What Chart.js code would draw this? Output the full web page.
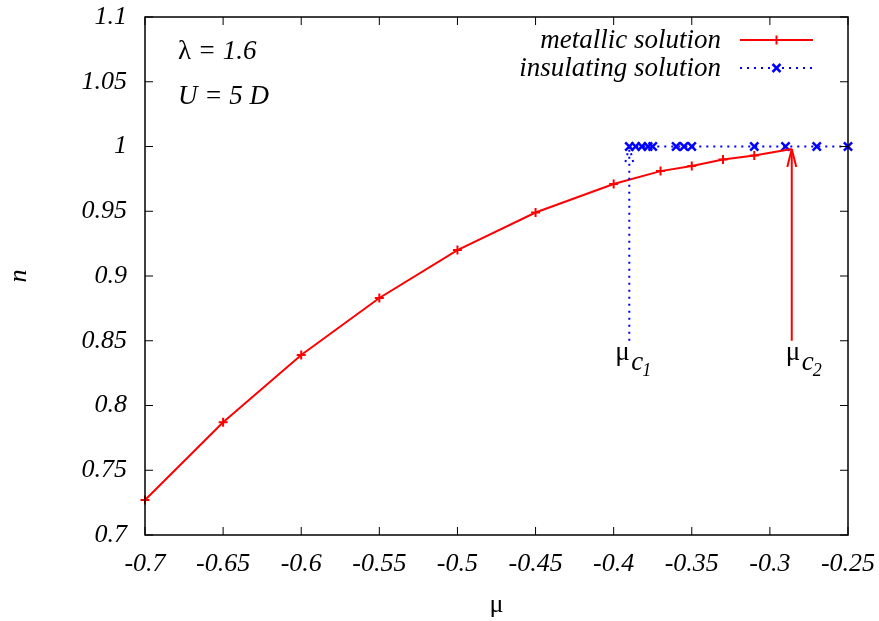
<!DOCTYPE html>
<html>
<head>
<meta charset="utf-8">
<script src="https://cdn.jsdelivr.net/npm/chart.js@4.4.0/dist/chart.umd.min.js"></script>
<style>
html,body{margin:0;padding:0;background:#fff}
#wrap{width:879px;height:621px}
</style>
</head>
<body>
<div id="wrap"><canvas id="grafico"></canvas></div>
<script>
// metallic solution
var muMetal = [-0.7, -0.65, -0.6, -0.55, -0.5, -0.45, -0.4, -0.37, -0.35, -0.33, -0.31, -0.286];
var nMetal  = [0.727, 0.787, 0.839, 0.883, 0.920, 0.949, 0.971, 0.981, 0.985, 0.990, 0.993, 0.998];
// insulating solution
var muIns = [-0.39, -0.386, -0.382, -0.378, -0.375, -0.36, -0.355, -0.35, -0.31, -0.29, -0.27, -0.25];
var nIns  = [1, 1, 1, 1, 1, 1, 1, 1, 1, 1, 1, 1];
// axis ticks
var xTicks = [-0.7, -0.65, -0.6, -0.55, -0.5, -0.45, -0.4, -0.35, -0.3, -0.25];
var yTicks = [0.7, 0.75, 0.8, 0.85, 0.9, 0.95, 1, 1.05, 1.1];
// critical points (arrows)
var muC1 = -0.39, muC2 = -0.286, nArrowBase = 0.85;

var SERIF = '"Liberation Serif", "Times New Roman", serif';
var FS = 26;

function pts(xs, ys) {
  var out = [];
  for (var i = 0; i < xs.length; i++) out.push({x: xs[i], y: ys[i]});
  return out;
}

function seg(ctx, x1, y1, x2, y2) {
  ctx.beginPath(); ctx.moveTo(x1, y1); ctx.lineTo(x2, y2); ctx.stroke();
}

function plus(ctx, x, y, r) { seg(ctx, x - r, y, x + r, y); seg(ctx, x, y - r, x, y + r); }
function cross(ctx, x, y, r) { seg(ctx, x - r, y - r, x + r, y + r); seg(ctx, x - r, y + r, x + r, y - r); }

function arrow(ctx, x, yTip, yBase, color, dash) {
  ctx.strokeStyle = color;
  ctx.lineWidth = 2;
  ctx.setLineDash(dash);
  seg(ctx, x, yBase, x, yTip);
  seg(ctx, x, yTip, x - 4.5, yTip + 18);
  seg(ctx, x, yTip, x + 4.5, yTip + 18);
  ctx.setLineDash([]);
}

function muLabel(ctx, x, y, sub) {
  ctx.fillStyle = '#000';
  ctx.textAlign = 'left';
  ctx.textBaseline = 'alphabetic';
  ctx.font = '27px ' + SERIF;
  ctx.fillText('\u03bc', x, y);
  ctx.font = 'italic 27px ' + SERIF;
  ctx.fillText('c', x + 16, y + 10);
  ctx.font = 'italic 18px ' + SERIF;
  ctx.fillText(sub, x + 27, y + 16);
}

var decor = {
  id: 'decor',
  afterDraw: function (chart) {
    var ctx = chart.ctx, a = chart.chartArea, xs = chart.scales.x, ys = chart.scales.y;
    ctx.save();
    // frame
    ctx.strokeStyle = '#000';
    ctx.lineWidth = 1.5;
    ctx.strokeRect(a.left, a.top, a.right - a.left, a.bottom - a.top);
    // inward ticks, mirrored
    ctx.lineWidth = 1;
    xTicks.forEach(function (v) {
      var px = xs.getPixelForValue(v);
      seg(ctx, px, a.bottom, px, a.bottom - 8);
      seg(ctx, px, a.top, px, a.top + 8);
    });
    yTicks.forEach(function (v) {
      var py = ys.getPixelForValue(v);
      seg(ctx, a.left, py, a.left + 8, py);
      seg(ctx, a.right, py, a.right - 8, py);
    });

    // arrows to the critical points
    var yb = ys.getPixelForValue(nArrowBase);
    arrow(ctx, xs.getPixelForValue(muC1), ys.getPixelForValue(1), yb, '#0000ff', [2, 5]);
    arrow(ctx, xs.getPixelForValue(muC2), ys.getPixelForValue(nMetal[nMetal.length - 1]), yb, '#ff0000', []);
    muLabel(ctx, xs.getPixelForValue(muC1) - 14, yb + 19, '1');
    muLabel(ctx, xs.getPixelForValue(muC2) - 6, yb + 19, '2');

    // parameters
    ctx.fillStyle = '#000';
    ctx.textAlign = 'left';
    ctx.textBaseline = 'middle';
    ctx.font = '27px ' + SERIF;
    ctx.fillText('\u03bb', a.left + 33, a.top + 35);
    ctx.font = 'italic 27px ' + SERIF;
    ctx.fillText(' = 1.6', a.left + 46, a.top + 35);
    ctx.fillText('U = 5 D', a.left + 33, a.top + 80);

    // legend
    ctx.textAlign = 'right';
    ctx.fillText('metallic solution', a.right - 127, a.top + 24);
    ctx.fillText('insulating solution', a.right - 127, a.top + 52);
    var lx1 = a.right - 108, lx2 = a.right - 35, ly1 = a.top + 23, ly2 = a.top + 51;
    ctx.strokeStyle = '#ff0000';
    ctx.lineWidth = 2;
    seg(ctx, lx1, ly1, lx2, ly1);
    plus(ctx, (lx1 + lx2) / 2, ly1, 4.5);
    ctx.strokeStyle = '#0000ff';
    ctx.setLineDash([2, 5]);
    seg(ctx, lx1, ly2, lx2, ly2);
    ctx.setLineDash([]);
    ctx.lineWidth = 2.5;
    cross(ctx, (lx1 + lx2) / 2, ly2, 4);
    ctx.restore();
  }
};

var ctx = document.getElementById('grafico').getContext('2d');
var myChart = new Chart(ctx, {
  type: 'scatter',
  data: {
    datasets: [{
      label: 'metallic solution',
      data: pts(muMetal, nMetal),
      showLine: true,
      borderColor: '#ff0000',
      backgroundColor: '#ff0000',
      borderWidth: 2,
      pointStyle: 'cross',
      pointRadius: function (c) { return c.dataIndex === muMetal.length - 1 ? 0 : 4.5; },
      pointBorderWidth: 2,
      clip: false
    }, {
      label: 'insulating solution',
      data: pts(muIns, nIns),
      showLine: true,
      borderColor: '#0000ff',
      backgroundColor: '#0000ff',
      borderWidth: 2,
      borderDash: [2, 5],
      pointStyle: 'crossRot',
      pointRadius: 5.8,
      pointBorderWidth: 2.5,
      clip: false
    }]
  },
  options: {
    responsive: true,
    maintainAspectRatio: false,
    animation: false,
    layout: {padding: {left: 0, right: 31, top: 17, bottom: 0}},
    plugins: {legend: {display: false}, tooltip: {enabled: false}},
    scales: {
      x: {
        type: 'linear', min: -0.7, max: -0.25,
        afterBuildTicks: function (s) { s.ticks = xTicks.map(function (v) { return {value: v}; }); },
        afterFit: function (s) { s.height = 86; s.paddingLeft = 0; s.paddingRight = 0; },
        grid: {display: false, drawTicks: false},
        border: {display: false},
        ticks: {color: '#000', padding: 14, maxRotation: 0, autoSkip: false,
          font: {family: SERIF, size: FS, style: 'italic'},
          callback: function (v) { return String(v); }},
        title: {display: true, text: '\u03bc', color: '#000', padding: {top: 2, bottom: 0},
          font: {family: SERIF, size: FS}}
      },
      y: {
        type: 'linear', min: 0.7, max: 1.1,
        afterBuildTicks: function (s) { s.ticks = yTicks.map(function (v) { return {value: v}; }); },
        afterFit: function (s) { s.width = 145; s.paddingTop = 0; s.paddingBottom = 0; },
        grid: {display: false, drawTicks: false},
        border: {display: false},
        ticks: {color: '#000', padding: 18, autoSkip: false,
          font: {family: SERIF, size: FS, style: 'italic'},
          callback: function (v) { return String(v); }},
        title: {display: true, text: 'n', color: '#000', padding: {top: 4, bottom: 0},
          font: {family: SERIF, size: FS, style: 'italic'}}
      }
    }
  },
  plugins: [decor]
});
</script>
</body>
</html>
